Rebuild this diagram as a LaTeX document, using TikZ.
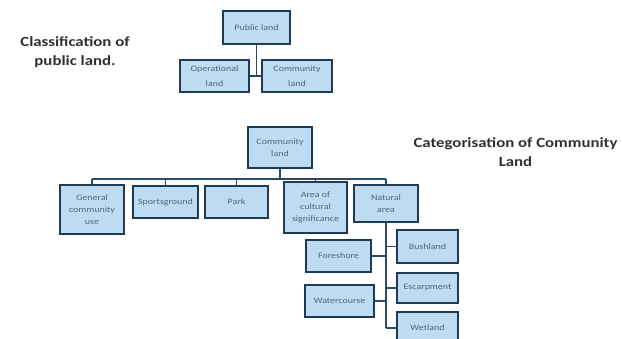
\documentclass[tikz,border=0pt]{standalone}
\usepackage{fontspec}
\setmainfont{Carlito}
\newfontfamily\widefont[FakeStretch=1.2]{Carlito}
\definecolor{boxfill}{HTML}{BDDCF2}
\definecolor{boxline}{HTML}{1E3A56}
\definecolor{linkc}{HTML}{2B4A68}
\definecolor{boxtext}{HTML}{4A6784}
\definecolor{headc}{HTML}{303030}
\begin{document}
\begin{tikzpicture}[x=1pt,y=-1pt,
  box/.style={draw=boxline, fill=boxfill, line width=1.3pt, inner sep=1pt, align=center,
    font=\widefont\fontsize{8.3}{12}\selectfont, text=boxtext},
  wide/.style={font=\widefont\fontsize{8.3}{15.5}\selectfont},
  link/.style={draw=linkc, line width=1.2pt},
  head/.style={align=center, font=\widefont\bfseries\fontsize{14}{19}\selectfont, text=headc}]
\useasboundingbox[fill=white] (0,0) rectangle (622,339);
% top hierarchy
\node[box, minimum width=67pt, minimum height=33pt] (pub) at (256.5,27.5) {Public land};
\node[box, wide, minimum width=69pt, minimum height=32pt] (oper) at (214.5,76) {Operational\\land};
\node[box, wide, minimum width=70pt, minimum height=32pt] (comm1) at (297,76) {Community\\land};
\coordinate (j1) at (256.5,76);
\draw[link] (pub.south) -- (j1);
\draw[link] (oper.east) -- (comm1.west);
\node[head] (h1) at (75,52.5) {Classification of\\public land.};
\node[head] (h2) at (515.5,152.5) {Categorisation of Community\\Land};
% community land hierarchy
\node[box, minimum width=64pt, minimum height=41pt] (comm2) at (280,147.5) {Community\\land};
\node[box, minimum width=64pt, minimum height=49pt] (gen) at (92,209.5) {General\\community\\use};
\node[box, minimum width=65pt, minimum height=32pt] (sport) at (165.5,202) {Sportsground};
\node[box, minimum width=63pt, minimum height=32pt] (park) at (236.5,202) {Park};
\node[box, minimum width=63pt, minimum height=51pt] (area) at (315.5,207.5) {Area of\\cultural\\significance};
\node[box, minimum width=64pt, minimum height=37pt] (nat) at (386,203.5) {Natural\\area};
\coordinate (bus) at (0,179);
\draw[link] (comm2.south) -- (comm2.south |- bus);
\draw[link] (gen.north |- bus) -- (nat.north |- bus);
\foreach \n in {gen,sport,park,area,nat}
  \draw[link] (\n.north |- bus) -- (\n.north);
% natural area children
\node[box, minimum width=61pt, minimum height=33pt] (bush) at (427.5,246.5) {Bushland};
\node[box, minimum width=65pt, minimum height=32pt] (fore) at (338.5,256) {Foreshore};
\node[box, minimum width=61pt, minimum height=30pt] (esc) at (427.5,288) {Escarpment};
\node[box, minimum width=69pt, minimum height=32pt] (water) at (339.5,301) {Watercourse};
\node[box, minimum width=61pt, minimum height=32pt] (wet) at (427.5,328) {Wetland};
\draw[link] (nat.south) -- (nat.south |- wet.west);
\foreach \n in {bush,esc,wet}
  \draw[link] (\n.west) -- (\n.west -| nat.south);
\foreach \n in {fore,water}
  \draw[link] (\n.east) -- (\n.east -| nat.south);
\end{tikzpicture}
\end{document}
